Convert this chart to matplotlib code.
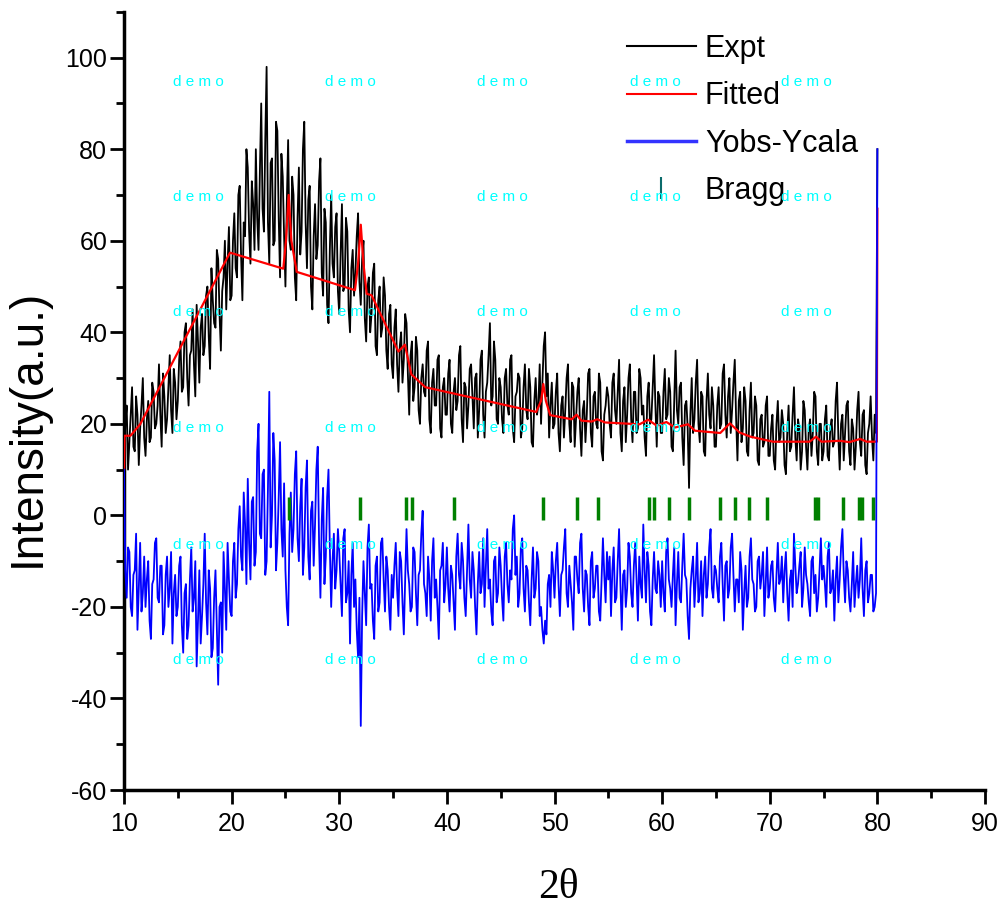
import numpy as np
import matplotlib
matplotlib.use("Agg")
import matplotlib.pyplot as plt
from matplotlib.lines import Line2D

# 2theta grid of the measured pattern (0.125 deg steps, 561 points)
two_theta = np.linspace(10, 80, 561)

expt = [
    12, 20, 24, 10, 16, 22, 28, 15, 14, 26, 22, 11, 19, 24, 30, 17, 13, 21, 25, 16, 17, 29, 27, 19, 20, 24, 33, 22, 15, 31, 26, 18, 21, 28, 35, 23, 18, 32, 29, 21,
    25, 34, 38, 27, 28, 40, 42, 30, 24, 35, 36, 45, 33, 26, 46, 38, 29, 41, 44, 35, 37, 48, 50, 39, 32, 54, 47, 42, 41, 58, 56, 44, 36, 49, 52, 60, 45, 55, 63, 47,
    48, 60, 66, 54, 52, 70, 72, 57, 47, 64, 61, 80, 76, 62, 55, 73, 68, 58, 80, 65, 58, 75, 90, 67, 62, 82, 98, 64, 55, 77, 78, 59, 60, 86, 84, 65, 52, 79, 74, 61,
    50, 68, 82, 60, 58, 74, 70, 52, 47, 65, 76, 57, 62, 80, 86, 64, 54, 69, 72, 50, 45, 61, 68, 56, 59, 73, 78, 53, 48, 67, 64, 46, 42, 58, 70, 55, 52, 63, 66, 49,
    44, 57, 68, 49, 50, 65, 62, 45, 40, 54, 58, 48, 53, 61, 66, 51, 46, 56, 60, 43, 38, 50, 52, 40, 44, 53, 55, 37, 35, 47, 50, 39, 41, 52, 48, 36, 32, 44, 46, 33,
    30, 41, 45, 33, 27, 37, 40, 29, 34, 44, 42, 31, 22, 35, 38, 25, 28, 39, 36, 23, 20, 30, 33, 27, 26, 36, 38, 21, 18, 29, 32, 24, 24, 34, 35, 19, 17, 28, 30, 22,
    22, 31, 34, 20, 18, 27, 30, 23, 25, 35, 37, 21, 16, 29, 28, 19, 24, 32, 33, 26, 19, 30, 31, 17, 23, 34, 36, 22, 17, 27, 29, 35, 42, 24, 26, 38, 34, 21, 20, 30,
    28, 21, 18, 30, 32, 24, 22, 34, 35, 19, 16, 26, 27, 31, 30, 17, 19, 28, 33, 23, 21, 32, 28, 16, 15, 25, 30, 22, 24, 33, 20, 29, 37, 40, 26, 31, 17, 24, 29, 19,
    20, 27, 31, 18, 14, 24, 26, 17, 23, 30, 33, 20, 16, 29, 28, 15, 21, 27, 30, 19, 13, 23, 25, 16, 22, 31, 32, 18, 15, 26, 27, 20, 19, 31, 29, 14, 12, 22, 24, 28,
    26, 20, 17, 29, 31, 23, 20, 27, 34, 18, 14, 25, 28, 16, 22, 30, 33, 21, 16, 27, 27, 18, 19, 32, 30, 22, 24, 17, 13, 26, 29, 20, 21, 28, 35, 24, 15, 27, 26, 18,
    18, 27, 32, 21, 22, 30, 27, 15, 14, 25, 36, 23, 20, 28, 29, 17, 11, 24, 25, 19, 6, 22, 30, 18, 21, 29, 34, 20, 16, 27, 26, 14, 13, 25, 31, 22, 19, 28, 24, 15,
    15, 24, 28, 19, 20, 31, 33, 22, 17, 26, 30, 18, 23, 29, 34, 21, 12, 25, 27, 16, 19, 28, 25, 14, 13, 23, 29, 17, 18, 26, 24, 12, 11, 21, 22, 15, 16, 24, 26, 13,
    13, 19, 22, 12, 10, 20, 25, 16, 17, 23, 20, 11, 9, 18, 24, 14, 15, 22, 28, 17, 12, 21, 19, 10, 14, 25, 23, 15, 10, 19, 21, 13, 18, 27, 26, 14, 11, 20, 20, 12,
    14, 21, 24, 13, 12, 19, 21, 15, 16, 25, 29, 17, 10, 20, 22, 12, 18, 24, 25, 14, 11, 21, 19, 10, 15, 23, 27, 16, 13, 22, 23, 11, 9, 18, 20, 26, 17, 12, 22, 18,
    80,
]

diff = [
    10, -12, -18, -7, -8, -20, -22, -13, -12, -4, -25, -16, -6, -21, -17, -9, -20, -14, -10, -23, -27, -15, -14, -6, -5, -18, -19, -11, -11, -26, -24, -13, -9, -20, -16, -8, -28, -17, -13, -22,
    -20, -11, -9, -24, -30, -17, -15, -27, -24, -14, -7, -21, -18, -10, -33, -23, -12, -28, -22, -15, -4, -19, -26, -12, -16, -31, -29, -18, -12, -25, -37, -20, -19, -30, -8, -16, -25, -6, -14, -21,
    -22, -10, -6, -18, -15, -3, 2, -9, -12, 5, -2, -15, 8, -6, -14, 3, 4, -11, -8, 14, 20, -4, -5, 9, 10, -13, -10, 6, 27, -7, 0, 18, 12, -12, -6, 4, 16, -3, -9, 7,
    -12, -20, -24, -4, 5, -8, -3, 9, 14, -5, -10, 2, 8, -13, -7, 6, 12, -9, -14, 1, 3, -11, -2, 10, 15, -6, -18, -1, 6, -15, -9, 4, 10, -7, -20, -10, -4, -16, -12, -3,
    -8, -15, -22, -5, -3, -19, -17, -10, -28, -13, -6, -20, -14, -25, -31, -18, -46, -22, -10, -17, -24, -7, -2, -16, -15, -23, -27, -11, -9, -21, -19, -6, -5, -14, -21, -9, -12, -20, -25, -13,
    -18, -11, -6, -16, -22, -8, -10, -19, -26, -14, -3, -12, -15, -21, -20, -7, -8, -17, -24, -13, -12, -4, 1, -15, -17, -22, -9, -14, -23, -10, -5, -18, -14, -20, -27, -12, -11, -6, -19, -15,
    -7, -16, -21, -11, -13, -19, -25, -9, -4, -13, -16, -6, -10, -18, -22, -12, -2, -14, -18, -8, -12, -20, -26, -15, -8, -17, -15, -5, -20, -11, -3, -16, -14, -21, -24, -10, -9, -19, -17, -7,
    -11, -18, -23, -9, -6, -15, -19, -12, -14, -3, 0, -13, -9, -20, -17, -7, -5, -16, -21, -11, -12, -19, -24, -14, -7, -18, -16, -8, -10, -22, -20, -25, -28, -23, -26, -15, -13, -20, -8, -12,
    -18, -10, -6, -15, -22, -13, -12, -7, -3, -17, -20, -11, -15, -19, -25, -9, -9, -14, -17, -6, -4, -16, -21, -12, -13, -20, -24, -10, -8, -18, -16, -11, -11, -21, -23, -14, -5, -13, -19, -8,
    -14, -9, -22, -12, -7, -19, -18, -10, -3, -15, -25, -13, -12, -20, -16, -6, -9, -17, -20, -11, -6, -14, -23, -9, -15, -18, -2, -12, -19, -8, -11, -21, -24, -14, -8, -16, -17, -10, -13, -20,
    -10, -17, -21, -8, -5, -14, -16, -20, -13, -7, -24, -15, -8, -18, -19, -11, -4, -13, -14, -22, -27, -16, -12, -9, -20, -14, -6, -19, -17, -10, -22, -13, -9, -18, -15, -7, -3, -16, -18, -11,
    -12, -16, -19, -9, -6, -15, -23, -11, -10, -18, -16, -7, -4, -13, -21, -14, -14, -19, -8, -12, -25, -17, -11, -20, -18, -9, -5, -14, -15, -21, -20, -10, -9, -16, -13, -8, -22, -15, -7, -18,
    -16, -11, -10, -18, -21, -13, -6, -15, -14, -9, -19, -12, -8, -17, -23, -14, -12, -20, -4, -11, -17, -15, -11, -8, -20, -16, -7, -13, -15, -19, -22, -10, -9, -17, -13, -21, -18, -12, -5, -14,
    -11, -15, -20, -9, -6, -17, -16, -12, -23, -14, -9, -19, -14, -7, -3, -13, -19, -10, -12, -18, -21, -15, -8, -20, -15, -11, -18, -14, -5, -16, -22, -12, -10, -19, -17, -13, -13, -21, -20, -17,
    80,
]

# fitted profile, read at its break points
fit_x = [10.0, 10.05, 10.6, 11.5, 19.85, 24.8, 25.05, 25.3, 25.55, 26.05, 31.46, 31.75,
         32.0, 32.25, 32.55, 33.0, 35.5, 36.1, 36.7, 38.0, 48.3, 48.75, 48.96, 49.2,
         49.6, 51.6, 52.05, 52.5, 53.45, 53.97, 54.7, 57.9, 58.7, 59.5, 60.4, 61.2,
         62.4, 63.05, 65.4, 66.3, 67.2, 68.2, 70.3, 73.7, 74.3, 74.8, 76.5, 77.4,
         78.4, 79.0, 79.95, 80.0]
fit_y = [10, 17.4, 17.4, 19.9, 57.4, 53.9, 60, 70, 60, 53.2, 49.2, 55,
         63.5, 55, 48.4, 48.1, 35.8, 37.3, 30.8, 28.0, 22.6, 25, 28.7, 25,
         21.9, 21.0, 22.0, 20.7, 20.5, 21.0, 20.3, 19.9, 20.9, 19.6, 20.4, 19.2,
         19.9, 18.5, 18.0, 20.1, 18.1, 17.2, 16.1, 16.1, 17.2, 16.1, 16.3, 16.0,
         16.7, 16.1, 16.1, 67]

bragg_pos = [25.3, 31.9, 36.2, 36.8, 40.7, 48.95, 52.1, 54.0, 58.75, 59.2, 60.6, 62.5,
             65.4, 66.8, 68.1, 69.7, 74.2, 74.45, 76.8, 78.3, 78.55, 79.6]

plt.rcParams['font.family'] = ['Liberation Sans', 'DejaVu Sans']
plt.rcParams['axes.unicode_minus'] = False

fig = plt.figure(figsize=(10, 9.15), dpi=100)
ax = fig.add_axes([0.124, 0.1366, 0.861, 0.8504])

ax.plot(two_theta, expt, color='black', lw=1.3, zorder=2)
ax.plot(fit_x, fit_y, color='red', lw=1.6, zorder=3)
ax.plot(two_theta, diff, color='blue', lw=1.3, zorder=4)
ax.vlines(bragg_pos, -1, 4, color='green', lw=2.5, zorder=5)

ax.set_xlim(10, 90)
ax.set_ylim(-60, 110)
ax.set_xticks(np.arange(10, 91, 10))
ax.set_xticks(np.arange(15, 90, 10), minor=True)
ax.set_yticks(np.arange(-60, 101, 20))
ax.set_yticks(np.arange(-50, 111, 20), minor=True)

for s in ['top', 'right']:
    ax.spines[s].set_visible(False)
for s in ['left', 'bottom']:
    ax.spines[s].set_linewidth(2.5)
ax.tick_params(which='major', direction='out', length=10, width=2, labelsize=18)
ax.tick_params(axis='y', which='major', pad=2)
ax.tick_params(axis='x', which='major', pad=6)
ax.tick_params(which='minor', direction='out', length=6, width=2)

ylab = ax.set_ylabel('Intensity(a.u.)', fontsize=33)
ylab.set_verticalalignment('center')
ax.yaxis.set_label_coords(-0.112, 0.465)

fig.text(0.558, 1 - 888 / 915, '2θ', fontsize=30, family=['Liberation Serif'],
         ha='center', va='center')

handles = [
    Line2D([], [], color='black', lw=1.5),
    Line2D([], [], color='red', lw=1.5),
    Line2D([], [], color='#3333ff', lw=2.5),
    Line2D([], [], color='#0b6b6b', lw=0, marker='|', markersize=16, markeredgewidth=1.5),
]
ax.legend(handles, ['Expt', 'Fitted', 'Yobs-Ycala', 'Bragg'], loc='upper left',
          bbox_to_anchor=(0.627, 0.963), bbox_transform=fig.transFigure,
          frameon=False, borderpad=0, borderaxespad=0,
          handlelength=2.25, handletextpad=0.3, labelspacing=0.57,
          prop={'family': 'Liberation Sans', 'size': 22})

# watermark
wx = [198, 350, 502, 655, 806]
wy = [82, 197, 312, 428, 545, 660]
for py in wy:
    for px in wx:
        fig.text(px / 1000, 1 - py / 915, 'd e m o', color='cyan', fontsize=11,
                 ha='center', va='center', zorder=10)

fig.savefig('out.png', dpi=100)
